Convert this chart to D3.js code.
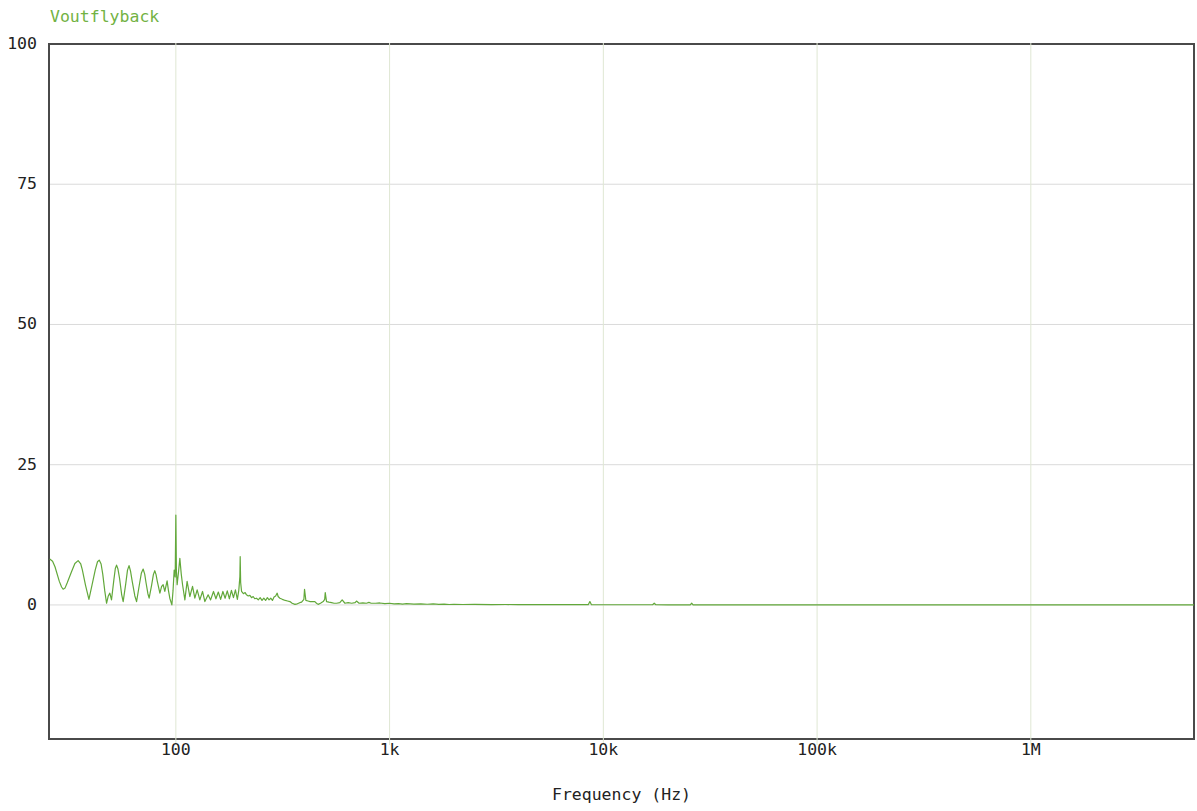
<!DOCTYPE html>
<html>
<head>
<meta charset="utf-8">
<script src="https://cdn.jsdelivr.net/npm/d3@7"></script>
<style>
  html, body { margin: 0; padding: 0; background: #fff; }
  svg { display: block; }
  text { font-family: "DejaVu Sans Mono", "Liberation Mono", monospace; }
</style>
</head>
<body>
<svg id="chart" width="1197" height="811"></svg>
<script>
// ---- data ----
const seriesName = "Voutflyback";
const xTickValues = [100, 1000, 10000, 100000, 1000000];
const xTickLabels = ["100", "1k", "10k", "100k", "1M"];
const yTickValues = [0, 25, 50, 75, 100];
const yTickLabels = ["0", "25", "50", "75", "100"];
const xLabel = "Frequency (Hz)";

const freq = [25.7, 26.5, 27.2, 28.5, 29.2, 29.7, 30.3, 31, 32.5, 33.7, 34.9, 35.9, 36.5, 37.8, 39.2, 40.5, 42, 43, 43.8, 44.7, 45.5, 46.5, 47.4, 48.3, 49.1, 50.0, 51.3, 52.1, 52.8, 53.6, 54.5, 55.8, 56.7, 58.3, 59.4, 60.4, 61.4, 62.5, 64.3, 65.5, 67.5, 69, 70.3, 71.5, 72.5, 74, 75.0, 77, 78.5, 79.7, 80.8, 81.8, 84.2, 85.8, 87.2, 88.8, 91.0, 92.4, 93.7, 95.8, 97, 98.2, 99.3, 100, 100.6, 101.4, 103, 104.4, 106, 107.5, 110.2, 112.9, 116.3, 119.7, 122.7, 125.8, 129.5, 133.3, 136.7, 141.6, 145.4, 150, 154, 158, 162, 166, 170, 174, 178, 182, 186, 190, 194, 197, 199.3, 200, 201, 203, 207, 211, 214, 218, 222, 226, 230, 234, 238.6, 243, 248, 253, 258, 263, 268, 273, 278, 283, 288, 293, 297.9, 301, 306.7, 315, 325, 333, 341.7, 350, 360.6, 370, 380, 387.5, 397.2, 400, 405.8, 415, 425, 435, 447, 455, 463, 475, 489, 497, 500, 507, 520, 535, 550, 565, 585, 600, 618, 640, 665, 690, 700, 720, 750, 780, 800, 820, 860, 900, 950, 1000, 1050, 1100, 1150, 1200, 1300, 1400, 1500, 1600, 1700, 1800, 1900, 2000, 2200, 2500, 3000, 3500, 4000, 5000, 6000, 7000, 8000, 8500, 8650, 8800, 10000, 12000, 15000, 17000, 17300, 17600, 20000, 25500, 25900, 26300, 40000, 100000, 1000000, 5800000];
const magnitude = [8.2, 7.8, 6.8, 4.2, 3.2, 2.8, 3.0, 3.9, 5.9, 7.4, 7.9, 7.3, 6.3, 3.5, 1.0, 3.5, 6.3, 7.7, 8.0, 7.3, 5.5, 2.5, 0.3, 1.6, 2.1, 0.9, 4.5, 6.5, 7.1, 6.4, 4.8, 1.8, 0.6, 3.8, 6.2, 7.0, 6.0, 4.2, 1.6, 0.6, 3.6, 5.7, 6.4, 5.5, 4.0, 2.0, 1.2, 3.5, 5.4, 6.1, 5.4, 4.3, 2.1, 3.3, 3.6, 2.4, 4.3, 2.5, 1.2, 0.0, 2.5, 6.2, 5.0, 16.0, 6.0, 3.6, 6.0, 8.3, 5.5, 3.6, 0.9, 4.2, 1.5, 3.3, 1.2, 2.7, 0.9, 2.4, 0.6, 1.8, 0.9, 2.4, 1.1, 2.3, 1.0, 2.4, 1.2, 2.5, 1.1, 2.6, 1.3, 2.7, 1.0, 2.6, 5.0, 8.6, 4.0, 2.4, 2.0, 2.2, 1.8, 1.6, 1.7, 1.3, 1.5, 1.1, 1.2, 0.9, 1.3, 0.8, 1.2, 0.8, 1.3, 0.9, 1.2, 0.8, 1.4, 1.6, 2.1, 1.5, 1.2, 1.0, 0.8, 0.7, 0.6, 0.3, 0.1, 0.2, 0.4, 0.5, 1.0, 2.8, 0.8, 0.7, 0.6, 0.6, 0.6, 0.3, 0.1, 0.3, 0.6, 1.0, 2.2, 0.6, 0.5, 0.4, 0.3, 0.3, 0.4, 0.9, 0.3, 0.4, 0.3, 0.4, 0.7, 0.3, 0.35, 0.3, 0.45, 0.3, 0.3, 0.35, 0.25, 0.3, 0.2, 0.25, 0.15, 0.22, 0.15, 0.2, 0.12, 0.18, 0.1, 0.15, 0.08, 0.12, 0.08, 0.1, 0.06, 0.08, 0.05, 0.05, 0.04, 0.04, 0.04, 0.05, 0.6, 0.05, 0.03, 0.03, 0.03, 0.03, 0.3, 0.03, 0.02, 0.02, 0.3, 0.02, 0.02, 0.01, 0.01, 0.01];

// ---- layout ----
const plotL = 49, plotR = 1194, plotT = 44, plotB = 739;
const svg = d3.select("#chart");

const x = d3.scaleLog().domain([25.5, 5.8e6]).range([plotL, plotR]);
const y = d3.scaleLinear().domain([-23.9, 100]).range([plotB, plotT]);

// horizontal gridlines
svg.append("g").selectAll("line").data(yTickValues).join("line")
  .attr("x1", plotL).attr("x2", plotR)
  .attr("y1", d => y(d)).attr("y2", d => y(d))
  .attr("stroke", "#dadada").attr("stroke-width", 1);

// frame
svg.append("rect")
  .attr("x", plotL).attr("y", plotT)
  .attr("width", plotR - plotL).attr("height", plotB - plotT)
  .attr("fill", "none").attr("stroke", "#4a4a4a").attr("stroke-width", 2);

// vertical gridlines (extend past bottom frame as ticks)
svg.append("g").selectAll("line").data(xTickValues).join("line")
  .attr("x1", d => x(d)).attr("x2", d => x(d))
  .attr("y1", plotT - 1).attr("y2", plotB + 6)
  .attr("stroke", "#dfe7d3").attr("stroke-width", 1);

// x tick labels
svg.append("g").selectAll("text").data(xTickValues).join("text")
  .attr("x", d => x(d)).attr("y", 755)
  .attr("text-anchor", "middle")
  .attr("font-size", "16.5px").attr("fill", "#222")
  .text((d, i) => xTickLabels[i]);

// y tick labels
svg.append("g").selectAll("text").data(yTickValues).join("text")
  .attr("x", 37).attr("y", d => y(d) + 5)
  .attr("text-anchor", "end")
  .attr("font-size", "16.5px").attr("fill", "#222")
  .text((d, i) => yTickLabels[i]);

// axis title
svg.append("text")
  .attr("x", (plotL + plotR) / 2).attr("y", 800)
  .attr("text-anchor", "middle")
  .attr("font-size", "16.5px").attr("fill", "#222")
  .text(xLabel);

// series title
svg.append("text")
  .attr("x", 50).attr("y", 22)
  .attr("font-size", "16.5px").attr("fill", "#72b243")
  .text(seriesName);

// line
const n = Math.min(freq.length, magnitude.length);
const pts = freq.slice(0, n).map((f, i) => [f, magnitude[i]]);
svg.append("path")
  .datum(pts)
  .attr("fill", "none")
  .attr("stroke", "#62a83a")
  .attr("stroke-width", 1.2)
  .attr("stroke-linejoin", "round")
  .attr("d", d3.line().x(d => x(d[0])).y(d => y(d[1])));
</script>
</body>
</html>
